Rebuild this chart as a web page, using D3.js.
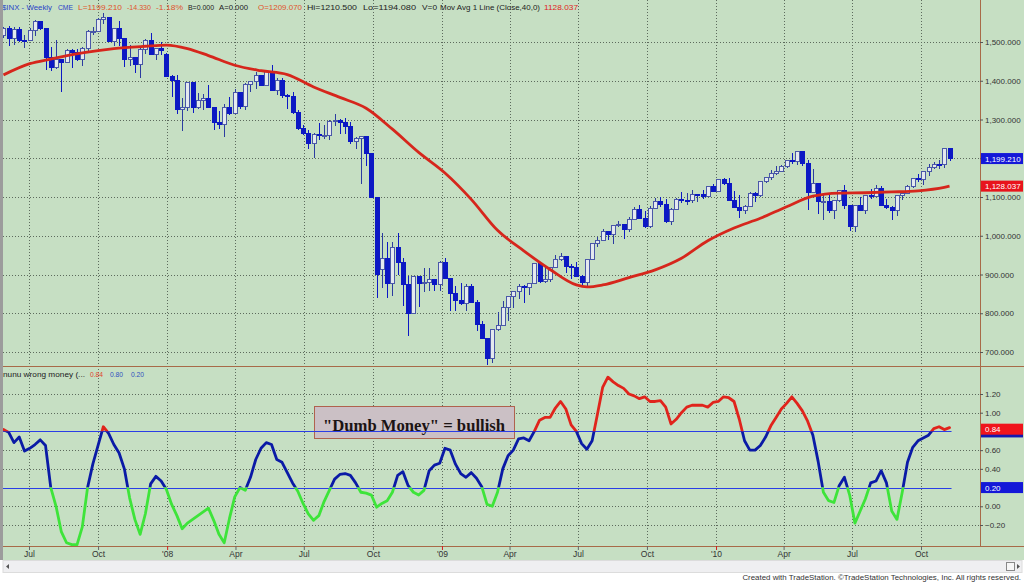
<!DOCTYPE html>
<html>
<head>
<meta charset="utf-8">
<script src="https://cdn.jsdelivr.net/npm/d3@7"></script>
<style>
  body { margin: 0; background: #fff; }
  svg { display: block; font-family: "Liberation Sans", Arial, sans-serif; }
</style>
</head>
<body>
<script>
const W = 1024, H = 585;

// weekly bars, week of 2007-05-28 .. week of 2010-11-08 (181 bars)
const firstWeek = new Date(2007, 4, 28);
const lastWeek = new Date(2010, 10, 8);

const open = [
  1516,1536,1508,1533,1503,1503,1530,1553,1534,1459,
  1433,1454,1446,1479,1474,1454,1484,1526,1527,1558,
  1562,1501,1535,1510,1454,1459,1441,1481,1505,1468,
  1484,1468,1412,1401,1325,1331,1395,1331,1350,1353,
  1331,1293,1288,1330,1315,1370,1333,1390,1398,1414,
  1388,1425,1376,1400,1361,1360,1318,1278,1263,1239,
  1261,1258,1260,1296,1298,1292,1283,1242,1252,1255,
  1213,1099,913,941,877,969,931,873,800,896,
  876,880,888,873,932,890,850,832,826,869,
  827,770,735,683,757,769,816,843,857,870,
  866,878,929,883,887,919,940,946,921,919,
  896,879,940,979,987,1010,1004,1026,1029,1016,
  1043,1068,1044,1025,1071,1088,1080,1036,1069,1093,
  1091,1091,1106,1106,1102,1126,1115,1145,1136,1092,
  1074,1066,1076,1109,1104,1139,1150,1160,1167,1178,
  1194,1192,1217,1187,1111,1136,1088,1089,1065,1092,
  1118,1077,1023,1078,1065,1103,1102,1122,1079,1072,
  1065,1105,1110,1126,1149,1146,1165,1176,1183,1183,
  1226];
const high = [
  1540,1541,1539,1540,1517,1535,1556,1555,1535,1488,
  1504,1456,1482,1482,1481,1487,1530,1538,1561,1576,
  1565,1535,1553,1510,1492,1460,1488,1508,1523,1485,
  1499,1471,1416,1414,1355,1396,1397,1368,1367,1388,
  1332,1321,1341,1359,1380,1371,1395,1399,1422,1416,
  1426,1440,1406,1406,1366,1370,1325,1286,1273,1266,
  1291,1285,1298,1314,1301,1303,1294,1256,1256,1255,
  1214,1099,1007,985,984,1007,942,896,896,896,
  918,918,888,934,943,890,870,878,875,876,
  835,779,735,758,804,832,845,857,876,872,
  879,930,930,925,920,951,956,946,928,931,
  899,941,979,996,1018,1013,1027,1039,1031,1049,
  1074,1080,1065,1076,1097,1101,1095,1072,1097,1114,
  1111,1119,1108,1118,1129,1133,1145,1150,1150,1115,
  1104,1080,1112,1113,1139,1151,1170,1181,1182,1195,
  1214,1218,1220,1196,1173,1136,1104,1105,1093,1119,
  1131,1079,1078,1100,1103,1120,1130,1128,1095,1077,
  1105,1111,1131,1149,1160,1167,1184,1190,1196,1227,
  1227];
const low = [
  1510,1490,1492,1500,1484,1503,1515,1530,1429,1426,
  1430,1371,1445,1433,1450,1439,1477,1517,1527,1546,
  1500,1490,1490,1436,1438,1420,1406,1469,1467,1453,
  1466,1411,1357,1313,1271,1322,1316,1327,1324,1330,
  1272,1276,1256,1312,1315,1326,1324,1370,1380,1386,
  1388,1373,1362,1355,1326,1315,1272,1260,1225,1200,
  1248,1249,1248,1282,1262,1262,1236,1225,1133,1180,
  1097,840,866,840,845,899,819,741,798,815,
  856,857,857,858,888,805,805,821,806,826,
  754,734,666,672,753,768,779,814,836,826,
  847,876,878,879,881,917,934,903,888,896,
  869,869,940,972,987,990,978,1022,992,1010,
  1041,1042,1020,1020,1070,1073,1034,1029,1066,1085,
  1080,1085,1086,1094,1099,1115,1115,1130,1090,1071,
  1045,1056,1076,1086,1100,1136,1145,1157,1167,1174,
  1186,1183,1181,1066,1111,1055,1040,1060,1043,1087,
  1068,1011,1010,1064,1056,1094,1102,1076,1069,1040,
  1050,1092,1107,1122,1140,1132,1155,1171,1171,1174,
  1194];
const close = [
  1536,1508,1533,1503,1503,1530,1553,1534,1459,1433,
  1454,1446,1479,1474,1454,1484,1526,1527,1558,1562,
  1501,1535,1510,1454,1459,1441,1481,1505,1468,1484,
  1478,1412,1401,1325,1331,1395,1331,1350,1353,1331,
  1293,1288,1330,1315,1370,1333,1390,1398,1414,1388,
  1425,1376,1400,1361,1360,1318,1278,1263,1239,1261,
  1258,1260,1296,1298,1292,1283,1242,1252,1255,1213,
  1099,899,941,877,969,931,873,800,896,876,
  880,888,873,932,890,850,832,826,869,827,
  770,735,683,757,769,816,843,857,870,866,
  878,929,883,887,919,940,946,921,919,896,
  879,940,979,987,1010,1004,1026,1029,1016,1043,
  1068,1044,1025,1071,1088,1080,1036,1069,1093,1091,
  1091,1106,1106,1102,1126,1115,1145,1136,1092,1074,
  1066,1076,1109,1104,1139,1150,1160,1167,1178,1194,
  1192,1217,1187,1111,1136,1088,1089,1065,1092,1118,
  1077,1023,1078,1065,1103,1102,1122,1079,1072,1065,
  1105,1110,1126,1149,1146,1165,1176,1183,1183,1226,
  1199.21];

// 40 week moving average, read at these bar numbers
const maWeek  = [0,5,9,15,21,27,31,35,39,44,49,54,59,64,69,74,79,84,89,94,99,104,109,111,114,119,124,129,134,139,144,149,154,159,164,169,174,179,180];
const maValue = [1415,1444,1456,1472,1483,1489,1492,1483,1465,1440,1426,1416,1384,1357,1329,1275,1215,1162,1094,1014,961,913,873,868,873,892,912,942,987,1020,1045,1075,1102,1110,1111,1113,1116,1125,1128.037];

// "nunu wrong money" indicator, one value per bar
const money = [
  0.82,0.79,0.68,0.74,0.59,0.62,0.66,0.71,0.65,0.20,
  0.00,-0.27,-0.39,-0.41,-0.41,-0.22,0.20,0.45,0.65,0.85,
  0.78,0.66,0.57,0.40,0.09,-0.14,-0.30,-0.08,0.24,0.32,
  0.27,0.18,0.02,-0.10,-0.24,-0.18,-0.14,-0.10,-0.06,-0.02,
  -0.15,-0.30,-0.39,-0.13,0.10,0.20,0.17,0.31,0.50,0.62,
  0.68,0.66,0.50,0.47,0.36,0.25,0.16,0.03,-0.08,-0.15,
  -0.10,0.05,0.17,0.29,0.34,0.35,0.33,0.25,0.15,0.14,
  0.12,-0.01,0.03,0.06,0.15,0.33,0.37,0.22,0.15,0.12,
  0.17,0.38,0.44,0.46,0.62,0.60,0.45,0.35,0.31,0.36,
  0.30,0.21,0.02,0.00,0.15,0.40,0.54,0.60,0.72,0.73,
  0.70,0.80,0.92,0.95,0.95,1.05,1.12,1.04,0.87,0.80,
  0.67,0.61,0.70,0.98,1.27,1.38,1.33,1.29,1.26,1.20,
  1.18,1.15,1.17,1.12,1.12,1.13,1.06,0.88,0.93,1.00,
  1.06,1.08,1.08,1.08,1.06,1.11,1.12,1.17,1.16,1.12,
  0.93,0.70,0.60,0.60,0.65,0.74,0.86,0.95,1.04,1.10,
  1.17,1.10,1.02,0.91,0.76,0.48,0.15,0.06,0.04,0.22,
  0.31,0.12,-0.18,-0.05,0.08,0.25,0.27,0.38,0.25,-0.05,
  -0.14,0.15,0.47,0.63,0.70,0.73,0.76,0.83,0.85,0.82,
  0.84];
const levels = [0.80, 0.20];

const priceTicks = [700, 800, 900, 1000, 1100, 1200, 1300, 1400, 1500];
const moneyTicks = [-0.2, 0, 0.2, 0.4, 0.6, 0.8, 1.0, 1.2];
const xTickDates = ["2007-07-01","2007-10-01","2008-01-01","2008-04-01","2008-07-01","2008-10-01",
  "2009-01-01","2009-04-01","2009-07-01","2009-10-01","2010-01-01","2010-04-01","2010-07-01","2010-10-01"];
const xTickLabels = ["Jul","Oct","'08","Apr","Jul","Oct","'09","Apr","Jul","Oct","'10","Apr","Jul","Oct"];

const lastClose = 1199.21, lastMA = 1128.037, lastMoney = 0.84;

// colours
const bg = "#c6dfc3";
const gridC = "#5d6b5d";
const axisC = "#a86a48";
const blueBody = "#0c18c4";
const wickC = "#2c3ca0";
const maC = "#d6261c";

const parse = d3.timeParse("%Y-%m-%d");
const weeks = d3.timeMonday.range(firstWeek, d3.timeDay.offset(lastWeek, 1));

const leftX = 3, axisX = 980, sepY = 366, botY = 546;

const x = d3.scaleTime()
  .domain([new Date(2007, 6, 1), new Date(2010, 9, 1)])
  .range([29, 921]);
const yPrice = d3.scaleLinear().domain([700, 1500]).range([352, 42]);
const yMoney = d3.scaleLinear().domain([-0.2, 1.2]).range([525, 394]);

const svg = d3.select("body").append("svg").attr("width", W).attr("height", H);
svg.append("rect").attr("width", W).attr("height", H).attr("fill", "#fff");
svg.append("rect").attr("width", W).attr("height", 560).attr("fill", bg);

const defs = svg.append("defs");
const clip = (id, x0, y0, x1, y1) => defs.append("clipPath").attr("id", id)
  .append("rect").attr("x", x0).attr("y", y0).attr("width", x1 - x0).attr("height", y1 - y0);
clip("topClip", leftX, 0, axisX, sepY);
clip("redClip", leftX, sepY, axisX, yMoney(0.8));
clip("blueClip", leftX, yMoney(0.8), axisX, yMoney(0.2));
clip("greenClip", leftX, yMoney(0.2), axisX, botY);

// grid
const grid = svg.append("g").attr("stroke", gridC).attr("stroke-dasharray", "1,2").attr("stroke-width", 1);
priceTicks.forEach(v => grid.append("line")
  .attr("x1", leftX).attr("x2", axisX).attr("y1", Math.round(yPrice(v)) + 0.5).attr("y2", Math.round(yPrice(v)) + 0.5));
moneyTicks.filter(v => !levels.includes(v)).forEach(v => grid.append("line")
  .attr("x1", leftX).attr("x2", axisX).attr("y1", Math.round(yMoney(v)) + 0.5).attr("y2", Math.round(yMoney(v)) + 0.5));
xTickDates.forEach(d => {
  const px = Math.round(x(parse(d))) + 0.5;
  grid.append("line").attr("x1", px).attr("x2", px).attr("y1", 0).attr("y2", sepY);
  grid.append("line").attr("x1", px).attr("x2", px).attr("y1", sepY).attr("y2", botY);
});

// candles
const bars = weeks.map((d, i) => ({ d, o: open[i], h: high[i], l: low[i], c: close[i] }));
const cg = svg.append("g").attr("clip-path", "url(#topClip)").attr("shape-rendering", "crispEdges");
const candle = cg.selectAll("g.bar").data(bars).enter().append("g").attr("class", "bar");
candle.append("line")
  .attr("x1", b => Math.round(x(b.d)) + 0.5).attr("x2", b => Math.round(x(b.d)) + 0.5)
  .attr("y1", b => yPrice(b.h)).attr("y2", b => yPrice(b.l))
  .attr("stroke", b => b.c >= b.o ? wickC : blueBody).attr("stroke-width", 1);
candle.append("rect")
  .attr("x", b => Math.round(x(b.d)) - 1.5)
  .attr("width", 4)
  .attr("y", b => yPrice(Math.max(b.o, b.c)))
  .attr("height", b => Math.max(1, yPrice(Math.min(b.o, b.c)) - yPrice(Math.max(b.o, b.c))))
  .attr("fill", b => b.c > b.o ? "#e4e9ee" : blueBody)
  .attr("stroke", b => b.c > b.o ? "#4a58a8" : blueBody)
  .attr("stroke-width", 1);

// moving average
const maPts = maWeek.map((w, k) => ({ d: weeks[w], v: maValue[k] }));
svg.append("path").datum(maPts)
  .attr("clip-path", "url(#topClip)")
  .attr("fill", "none").attr("stroke", maC).attr("stroke-width", 2.8)
  .attr("stroke-linejoin", "round")
  .attr("d", d3.line().x(p => x(p.d)).y(p => yPrice(p.v)).curve(d3.curveMonotoneX));

// panel separator
svg.append("line").attr("x1", leftX).attr("x2", W).attr("y1", sepY + 0.5).attr("y2", sepY + 0.5)
  .attr("stroke", axisC).attr("stroke-width", 1);

// annotation box
svg.append("rect").attr("x", 314.5).attr("y", 406.5).attr("width", 200).attr("height", 32)
  .attr("fill", "#cbc0c5").attr("stroke", "#b0624e").attr("stroke-width", 1);
svg.append("text").attr("x", 414).attr("y", 431).attr("text-anchor", "middle")
  .attr("font-family", "'Liberation Serif', 'DejaVu Serif', serif").attr("font-weight", "bold")
  .attr("font-size", 17).attr("fill", "#1c1414")
  .attr("textLength", 182).attr("lengthAdjust", "spacingAndGlyphs")
  .text('"Dumb Money" = bullish');

// level lines
levels.forEach(v => svg.append("line")
  .attr("x1", leftX).attr("x2", x(weeks[weeks.length - 1]) + 2)
  .attr("y1", Math.round(yMoney(v)) + 0.5).attr("y2", Math.round(yMoney(v)) + 0.5)
  .attr("stroke", "#2a3ee6").attr("stroke-width", 1));

// indicator, coloured by zone
const moneyLine = d3.line().x((v, i) => x(weeks[i])).y(v => yMoney(v));
[["redClip", "#e0241c"], ["blueClip", "#0a1aa6"], ["greenClip", "#3ee43a"]].forEach(([id, col]) =>
  svg.append("path").datum(money)
    .attr("clip-path", `url(#${id})`)
    .attr("fill", "none").attr("stroke", col).attr("stroke-width", 2.8)
    .attr("stroke-linejoin", "round").attr("stroke-linecap", "round")
    .attr("d", moneyLine));

// right axes
svg.append("line").attr("x1", axisX + 0.5).attr("x2", axisX + 0.5).attr("y1", 0).attr("y2", botY)
  .attr("stroke", axisC).attr("stroke-width", 1);

const styleAxis = g => {
  g.select(".domain").remove();
  g.selectAll(".tick line").attr("stroke", "#555");
  g.selectAll(".tick text").attr("fill", "#333").attr("font-size", 8)
    .attr("font-family", "'Liberation Sans', Arial, sans-serif");
};
svg.append("g").attr("transform", `translate(${axisX},0)`)
  .call(d3.axisRight(yPrice).tickValues(priceTicks).tickFormat(d3.format(",.3f")).tickSize(3).tickPadding(2))
  .call(styleAxis);
// 0.80 and 0.20 sit under the value tags, as in the original
svg.append("g").attr("transform", `translate(${axisX},0)`)
  .call(d3.axisRight(yMoney).tickValues(moneyTicks.filter(v => !levels.includes(v)))
    .tickFormat(d3.format(".2f")).tickSize(3).tickPadding(2))
  .call(styleAxis);

const tagBox = (yv, col) => svg.append("rect").attr("x", axisX + 1).attr("y", yv - 5.5)
  .attr("width", 42).attr("height", 11).attr("fill", col);
const tag = (yv, label, col) => {
  tagBox(yv, col);
  svg.append("text").attr("x", axisX + 5).attr("y", yv + 3).attr("font-size", 8).attr("fill", "#fff").text(label);
};
tag(yPrice(lastClose), d3.format(",.3f")(lastClose), "#1418d8");
tag(yPrice(lastMA), d3.format(",.3f")(lastMA), "#e8141c");
tagBox(yMoney(levels[0]) + 0.5, "#1418b0");
tag(yMoney(levels[1]), levels[1].toFixed(2), "#1418d8");
tag(yMoney(lastMoney) + 1.5, lastMoney.toFixed(2), "#f0141c");

// x axis
svg.append("line").attr("x1", leftX).attr("x2", W).attr("y1", botY + 0.5).attr("y2", botY + 0.5)
  .attr("stroke", axisC).attr("stroke-width", 1);
const xa = svg.append("g").attr("transform", `translate(0,${botY})`)
  .call(d3.axisBottom(x).tickValues(xTickDates.map(parse)).tickFormat((d, i) => xTickLabels[i]).tickSize(4).tickPadding(1));
xa.select(".domain").remove();
xa.selectAll(".tick line").attr("stroke", (d, i) => xTickLabels[i].startsWith("'") ? "#d02020" : "#666");
xa.selectAll(".tick text").attr("fill", "#333").attr("font-size", 8.5)
  .attr("font-family", "'Liberation Sans', Arial, sans-serif");

// header legend
const header = [
  ["$INX - Weekly", 2, 50, "#2a44c8"],
  ["CME", 58, 15, "#2a44c8"],
  ["L=1199.210", 78, 44, "#e0542c"],
  ["-14.330", 127, 24, "#e0542c"],
  ["-1.18%", 156, 27, "#e0542c"],
  ["B=0.000", 188, 26, "#222"],
  ["A=0.000", 219, 29, "#222"],
  ["O=1209.070", 258, 44, "#e0542c"],
  ["Hi=1210.500", 307, 50, "#222"],
  ["Lo=1194.080", 363, 53, "#222"],
  ["V=0", 422, 15, "#222"],
  ["Mov Avg 1 Line (Close,40,0)", 440, 100, "#222"],
  ["1128.037", 544, 34, "#e0241c"]
];
header.forEach(([t, hx, hw, col]) => svg.append("text")
  .attr("x", hx).attr("y", 10).attr("font-size", 8).attr("fill", col)
  .attr("textLength", hw).attr("lengthAdjust", "spacingAndGlyphs").text(t));

const legend2 = [
  ["nunu wrong money (...", 3, 82, "#222"],
  ["0.84", 90, 13, "#e0442c"],
  ["0.80", 110, 13, "#3050c0"],
  ["0.20", 131, 13, "#3050c0"]
];
legend2.forEach(([t, hx, hw, col]) => svg.append("text")
  .attr("x", hx).attr("y", 377).attr("font-size", 8).attr("fill", col)
  .attr("textLength", hw).attr("lengthAdjust", "spacingAndGlyphs").text(t));

// window chrome
svg.append("rect").attr("x", 0).attr("y", 0).attr("width", 3).attr("height", 560).attr("fill", "#9c9c9c");
svg.append("rect").attr("x", 3).attr("y", 560.5).attr("width", 1019).attr("height", 12)
  .attr("fill", "#efeff1").attr("stroke", "#dcdcdc");
svg.append("path").attr("d", "M6,566.5 L9,564 L9,569 Z").attr("fill", "#555");
svg.append("rect").attr("x", 1006.5).attr("y", 562.5).attr("width", 8).attr("height", 8)
  .attr("fill", "#f6f6f6").attr("stroke", "#888");
svg.append("path").attr("d", "M1020,566.5 L1017,564 L1017,569 Z").attr("fill", "#555");

svg.append("text").attr("x", 1021).attr("y", 580).attr("text-anchor", "end")
  .attr("font-size", 7.9).attr("fill", "#333")
  .text("Created with TradeStation. \u00A9TradeStation Technologies, Inc. All rights reserved.");
</script>
</body>
</html>
